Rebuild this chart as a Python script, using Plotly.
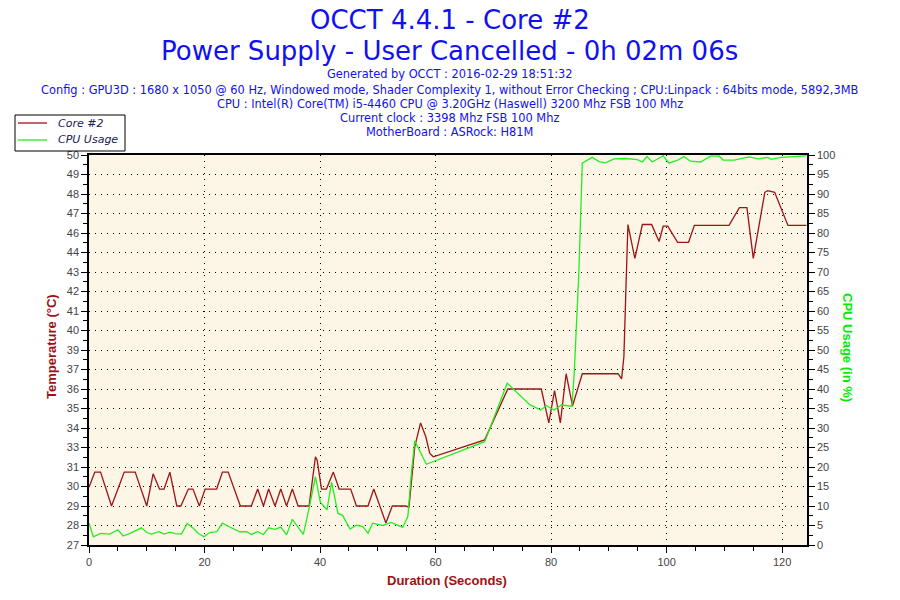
import plotly.graph_objects as go

# ---------------- data ----------------
temp_time = [0, 1.0, 2.0, 3.9, 6.1, 8.0, 10.0, 11.1, 12.2, 13.0, 14.0, 15.2, 15.9, 17.2, 18.0,
             19.1, 20.1, 22.1, 23.1, 24.1, 26.2, 28.1, 29.2, 30.2, 31.1, 32.2, 33.2, 34.2, 35.2,
             36.2, 38.1, 39.2, 39.5, 40.25, 41.1, 42.3, 43.3, 45.3, 46.3, 48.3, 49.3, 51.4, 52.5,
             54.7, 55.4, 56.0, 56.4, 57.4, 58.3, 59.0, 59.6, 68.5, 72.5, 78.3, 78.9, 79.6, 80.6,
             81.6, 82.6, 83.7, 85.4, 91.6, 92.2, 92.6, 92.9, 93.3, 94.5, 95.8, 97.4, 98.7, 99.4,
             100.2, 101.9, 103.8, 104.8, 110.8, 112.6, 113.9, 115.0, 117.0, 117.5, 118.7, 121.0, 124.2]
temp_core2 = [30.1, 31.0, 31.0, 29.0, 31.0, 31.0, 29.0, 30.9, 30.0, 30.0, 31.0, 29.0, 29.0, 30.0, 30.0,
              29.0, 30.0, 30.0, 31.0, 31.0, 29.0, 29.0, 30.0, 29.0, 30.0, 29.0, 30.0, 29.0, 30.0,
              29.0, 29.0, 31.9, 31.7, 30.0, 30.0, 31.0, 30.0, 30.0, 29.0, 29.0, 30.0, 28.0, 29.0,
              29.0, 28.95, 31.0, 32.5, 33.9, 33.1, 32.1, 31.9, 32.9, 35.9, 35.9, 34.9, 33.9, 35.8,
              33.9, 36.8, 34.9, 36.8, 36.8, 36.5, 37.8, 41.2, 45.6, 43.6, 45.6, 45.6, 44.6, 45.5,
              45.5, 44.55, 44.55, 45.55, 45.55, 46.6, 46.6, 43.6, 47.5, 47.6, 47.5, 45.55, 45.55]

cpu_time = [0, 0.75, 2.0, 3.6, 5.0, 5.9, 7.1, 9.1, 10.0, 10.8, 12.1, 13.0, 14.0, 14.9, 16.0, 17.0,
            18.05, 18.9, 19.9, 20.9, 22.1, 23.1, 24.1, 26.1, 27.3, 28.1, 29.2, 30.2, 31.1, 32.2,
            33.2, 34.2, 35.2, 37.1, 38.1, 39.2, 40.05, 41.2, 42.0, 43.1, 43.9, 45.2, 46.3, 47.4,
            48.3, 49.1, 50.8, 52.3, 54.3, 55.2, 55.8, 56.4, 58.4, 68.5, 72.4, 76.3, 78.2, 79.2,
            80.5, 81.8, 83.6, 84.0, 84.8, 85.4, 87.1, 88.3, 89.4, 90.9, 92.9, 94.9, 95.8, 96.6,
            97.5, 99.4, 100.4, 101.8, 103.0, 104.1, 105.9, 107.6, 109.1, 109.8, 111.7, 114.3,
            115.8, 117.5, 118.1, 119.8, 124.2]
cpu_usage = [5.6, 2.1, 3.0, 2.8, 3.9, 2.3, 3.0, 4.4, 3.2, 2.8, 3.4, 2.8, 3.3, 2.9, 2.8, 5.5,
             4.3, 3.0, 2.1, 3.2, 3.4, 5.6, 4.8, 3.4, 3.4, 2.7, 3.4, 2.7, 4.4, 4.0,
             4.6, 2.6, 6.6, 2.7, 9.4, 17.5, 11.0, 9.0, 16.1, 8.1, 7.6, 4.1, 5.1, 4.7,
             3.0, 5.6, 5.0, 5.8, 4.5, 7.3, 18.4, 26.7, 20.7, 26.5, 41.5, 36.0, 34.6, 35.7,
             34.6, 35.9, 35.6, 44.0, 69.7, 97.9, 99.4, 98.3, 98.0, 99.0, 99.1, 98.8, 98.2, 99.6,
             98.2, 99.8, 97.9, 98.6, 99.6, 98.4, 98.2, 99.7, 99.7, 98.7, 98.7, 99.5,
             99.0, 99.4, 98.9, 99.4, 99.8]

series_names = ["Core #2", "CPU Usage"]

temp_tick_labels = ["27", "28", "29", "30", "31", "33", "34", "35", "36", "37", "39",
                    "40", "41", "42", "43", "44", "46", "47", "48", "49", "50"]
temp_axis_min = 26.7
temp_axis_max = 49.7

title_lines = ["OCCT 4.4.1 - Core #2", "Power Supply - User Cancelled - 0h 02m 06s"]
info_lines = [
    "Generated by OCCT : 2016-02-29 18:51:32",
    "Config : GPU3D : 1680 x 1050 @ 60 Hz, Windowed mode, Shader Complexity 1, without Error Checking ; CPU:Linpack : 64bits mode, 5892,3MB",
    "CPU : Intel(R) Core(TM) i5-4460 CPU @ 3.20GHz (Haswell) 3200 Mhz FSB 100 Mhz",
    "Current clock : 3398 Mhz FSB 100 Mhz",
    "MotherBoard : ASRock: H81M",
]

# ---------------- layout helpers ----------------
W, H = 900, 600
L, R, T, B = 89, 807, 155, 545  # plot area in pixels


def px(x):
    return (x - L) / (R - L)


def py(y):
    return (B - y) / (B - T)


step = (temp_axis_max - temp_axis_min) / (len(temp_tick_labels) - 1)
temp_tickvals = [temp_axis_min + step * i for i in range(len(temp_tick_labels))]
temp_minor = [v + step / 2 for v in temp_tickvals[:-1]]

RED = "#A01010"
GREEN = "#00EE00"
BLUE = "#1010F0"
TEMP_COLOR = "#9C1414"
CPU_COLOR = "#22EE22"
TICKFONT = dict(family="Liberation Sans, Arial", size=11, color="#444444")

fig = go.Figure()
fig.add_trace(go.Scatter(x=temp_time, y=temp_core2, name=series_names[0], mode="lines",
                         line=dict(color=TEMP_COLOR, width=1.3), yaxis="y"))
fig.add_trace(go.Scatter(x=cpu_time, y=cpu_usage, name=series_names[1], mode="lines",
                         line=dict(color=CPU_COLOR, width=1.3), yaxis="y2"))

annotations = []
for i, txt in enumerate(title_lines):
    annotations.append(dict(text=txt, x=px(450), y=py([20, 51][i]), xref="paper", yref="paper",
                            showarrow=False, xanchor="center", yanchor="middle",
                            font=dict(family="DejaVu Sans", size=26, color=BLUE)))
for i, txt in enumerate(info_lines):
    annotations.append(dict(text=txt, x=px(450), y=py([74, 90, 104, 118, 132][i]), xref="paper",
                            yref="paper", showarrow=False, xanchor="center", yanchor="middle",
                            font=dict(family="DejaVu Sans", size=11.4, color=BLUE)))
annotations.append(dict(text="<b>Temperature (°C)</b>", x=px(51), y=py(347), xref="paper",
                        yref="paper", showarrow=False, textangle=-90, xanchor="center",
                        yanchor="middle",
                        font=dict(family="Liberation Sans Narrow, Arial", size=13, color=RED)))
annotations.append(dict(text="<b>CPU Usage (in %)</b>", x=px(848), y=py(347), xref="paper",
                        yref="paper", showarrow=False, textangle=90, xanchor="center",
                        yanchor="middle",
                        font=dict(family="Liberation Sans Narrow, Arial", size=13, color=GREEN)))
annotations.append(dict(text="<b>Duration (Seconds)</b>", x=px(447), y=py(580), xref="paper",
                        yref="paper", showarrow=False, xanchor="center", yanchor="middle",
                        font=dict(family="Liberation Sans Narrow, Arial", size=13, color=RED)))

# manual legend box (drawn in page pixels)
shapes = [dict(type="rect", xref="paper", yref="paper", x0=px(15), x1=px(125), y0=py(151),
               y1=py(115), fillcolor="white", line=dict(color="black", width=1), layer="above")]
for i, (name, col) in enumerate(zip(series_names, [TEMP_COLOR, CPU_COLOR])):
    yy = [123, 140][i]
    shapes.append(dict(type="line", xref="paper", yref="paper", x0=px(18), x1=px(47),
                       y0=py(yy), y1=py(yy), line=dict(color=col, width=1.3), layer="above"))
    annotations.append(dict(text="<i>" + name + "</i>", x=px(56), y=py(yy), xref="paper",
                            yref="paper", showarrow=False, xanchor="left", yanchor="middle",
                            font=dict(family="DejaVu Sans", size=11, color="#202050")))

fig.update_layout(
    width=W, height=H,
    margin=dict(l=L, r=W - R, t=T, b=H - B, pad=0),
    paper_bgcolor="white", plot_bgcolor="#FDF5E6",
    showlegend=False,
    xaxis=dict(range=[0, 124.3], tickmode="linear", tick0=0, dtick=20, showgrid=True,
               gridcolor="black", griddash="1px,5px", gridwidth=1, zeroline=False,
               showline=True, linecolor="black", linewidth=1.5, mirror=True,
               ticks="outside", ticklen=6, tickcolor="black", tickfont=TICKFONT,
               automargin=False,
               minor=dict(dtick=5, tick0=0, ticks="outside", ticklen=4, tickcolor="black",
                          showgrid=False)),
    yaxis=dict(range=[temp_axis_min, temp_axis_max], tickmode="array", tickvals=temp_tickvals,
               ticktext=temp_tick_labels, showgrid=True, gridcolor="black",
               griddash="1px,5px", gridwidth=1, zeroline=False, showline=True,
               linecolor="black", linewidth=1.5, ticks="outside", ticklen=6,
               tickcolor="black", tickfont=TICKFONT, automargin=False,
               minor=dict(tickmode="array", tickvals=temp_minor, ticks="outside", ticklen=4,
                          tickcolor="black", showgrid=False)),
    yaxis2=dict(range=[0, 100], overlaying="y", side="right", tickmode="linear", tick0=0,
                dtick=5, showgrid=False, zeroline=False, showline=True, linecolor="black",
                linewidth=1.5, ticks="outside", ticklen=6, tickcolor="black",
                tickfont=TICKFONT, automargin=False,
                minor=dict(dtick=2.5, tick0=0, ticks="outside", ticklen=4, tickcolor="black",
                           showgrid=False)),
    annotations=annotations,
    shapes=shapes,
)

fig.write_html("out.html", config={"displayModeBar": False},
               post_script="document.body.style.margin='0';")
